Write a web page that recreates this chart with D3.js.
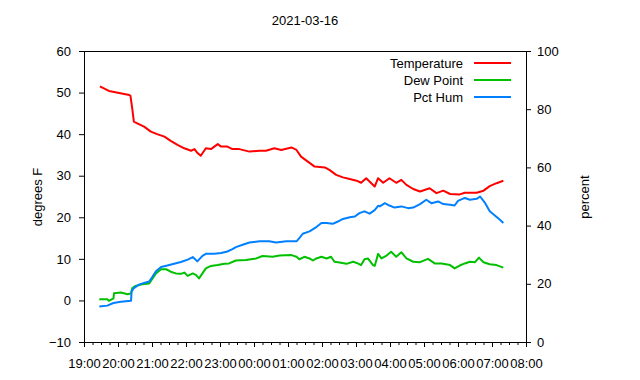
<!DOCTYPE html>
<html><head><meta charset="utf-8">
<script src="https://cdn.jsdelivr.net/npm/d3@7"></script>
<style>body{margin:0;background:#fff}svg{display:block;font-family:"Liberation Sans",Arial,Helvetica,sans-serif}</style>
</head><body><svg id="c" width="640" height="380"></svg>
<script>
const title = "2021-03-16";
const leftLabel = "degrees F";
const rightLabel = "percent";
const seriesNames = ["Temperature", "Dew Point", "Pct Hum"];
const leftTicks = [-10, 0, 10, 20, 30, 40, 50, 60];
const rightTicks = [0, 20, 40, 60, 80, 100];

const tempTimes = ["19:28","19:44","20:02","20:20","20:22","20:25","20:28","20:34","20:46","20:58","21:09","21:22","21:33","21:45","21:57","22:09","22:15","22:20","22:26","22:35","22:44","22:56","23:02","23:13","23:22","23:34","23:52","00:10","00:21","00:36","00:48","01:06","01:15","01:23","01:35","01:47","02:05","02:13","02:25","02:37","02:49","03:01","03:09","03:18","03:27","03:33","03:39","03:48","03:59","04:11","04:20","04:29","04:41","04:53","05:10","05:22","05:34","05:46","06:03","06:12","06:33","06:45","06:56","07:08","07:20"];
const tempValues = [51.5,50.4,49.9,49.4,49.2,46.3,43.0,42.6,41.8,40.6,40.0,39.4,38.4,37.4,36.6,36.0,36.4,35.5,34.8,36.6,36.4,37.6,37.0,37.0,36.4,36.4,35.8,36.0,36.0,36.6,36.2,36.8,36.2,34.6,33.4,32.2,32.0,31.4,30.2,29.6,29.2,28.8,28.3,29.4,28.2,27.4,29.4,28.3,29.4,28.3,29.0,27.8,26.8,26.2,27.0,25.8,26.4,25.6,25.5,25.9,25.9,26.4,27.5,28.2,28.8];

const dewTimes = ["19:27","19:41","19:44","19:52","19:53","20:05","20:17","20:23","20:25","20:31","20:43","20:55","21:01","21:07","21:16","21:25","21:33","21:42","21:51","21:57","22:03","22:12","22:18","22:23","22:29","22:35","22:44","22:56","23:08","23:16","23:28","23:46","00:04","00:15","00:33","00:45","01:06","01:15","01:20","01:29","01:38","01:44","01:50","01:59","02:08","02:16","02:22","02:31","02:43","02:55","03:03","03:09","03:15","03:21","03:30","03:33","03:39","03:45","03:54","04:02","04:11","04:20","04:29","04:41","04:53","05:07","05:19","05:31","05:46","05:54","06:03","06:12","06:21","06:30","06:37","06:45","06:56","07:08","07:20"];
const dewValues = [0.3,0.3,-0.1,0.5,1.7,1.9,1.5,1.7,2.9,3.5,3.9,4.1,5.3,6.5,7.5,7.5,6.9,6.5,6.4,6.7,5.9,6.5,6.1,5.3,6.5,7.7,8.3,8.5,8.8,8.9,9.6,9.7,10.1,10.7,10.5,10.8,10.9,10.5,9.9,10.5,10.1,9.6,10.1,10.5,10.1,10.5,9.3,9.1,8.8,9.3,8.9,8.5,9.9,10.1,8.5,8.3,11.2,10.1,10.8,11.7,10.5,11.6,10.1,9.3,9.2,10.0,8.9,8.9,8.5,7.7,8.4,8.9,9.3,9.2,10.3,9.2,8.7,8.5,7.9];

const humTimes = ["19:27","19:41","19:52","20:05","20:23","20:24","20:28","20:37","20:46","20:55","21:01","21:07","21:16","21:27","21:39","21:51","22:03","22:12","22:20","22:29","22:35","22:50","23:02","23:13","23:22","23:28","23:40","23:52","00:10","00:27","00:39","00:57","01:15","01:20","01:26","01:38","01:50","01:59","02:08","02:19","02:28","02:37","02:49","02:58","03:06","03:15","03:24","03:33","03:39","03:42","03:51","03:59","04:08","04:20","04:32","04:41","04:53","05:04","05:13","05:25","05:34","05:46","05:54","06:00","06:12","06:21","06:33","06:39","06:48","06:56","07:05","07:14","07:20"];
const humValues = [12.2,12.5,13.4,13.8,14.2,17.4,18.5,19.7,20.3,20.8,22.5,24.3,25.8,26.3,26.9,27.5,28.3,29.2,27.7,29.6,30.3,30.3,30.6,31.1,31.9,32.6,33.4,34.2,34.6,34.6,34.2,34.6,34.6,35.7,37.2,38.0,39.5,40.9,40.9,40.6,41.4,42.3,42.9,43.1,44.3,44.9,44.1,45.3,46.8,46.6,47.7,46.9,46.2,46.6,46.0,46.2,47.4,48.9,47.7,48.3,47.4,47.2,46.9,48.5,49.5,48.9,49.2,50.0,47.7,44.9,43.5,42.0,40.9];

const colors = ["#ff0000", "#00c000", "#0080ff"];

function parseT(s) {
  const [h, m] = s.split(":").map(Number);
  return new Date(2021, 2, h >= 12 ? 15 : 16, h, m);
}

const svg = d3.select("#c");
const L = 84, R = 526, T = 51, B = 342;

const x = d3.scaleTime()
  .domain([new Date(2021, 2, 15, 19, 0), new Date(2021, 2, 16, 8, 0)])
  .range([L, R]);
const yL = d3.scaleLinear().domain([-10, 60]).range([B, T]);
const yR = d3.scaleLinear().domain([0, 100]).range([B, T]);

// minor x ticks
const gMinor = svg.append("g").attr("transform", `translate(0,${B})`)
  .call(d3.axisBottom(x).ticks(d3.timeMinute.every(15)).tickSize(3).tickFormat(""));
gMinor.select(".domain").remove();

const gx = svg.append("g").attr("transform", `translate(0,${B})`)
  .call(d3.axisBottom(x).ticks(d3.timeHour.every(1)).tickFormat(d3.timeFormat("%H:%M")).tickSize(5).tickPadding(12));
gx.select(".domain").remove();

const gl = svg.append("g").attr("transform", `translate(${L},0)`)
  .call(d3.axisLeft(yL).tickValues(leftTicks).tickSize(5).tickPadding(8));
gl.select(".domain").remove();

const gr = svg.append("g").attr("transform", `translate(${R},0)`)
  .call(d3.axisRight(yR).tickValues(rightTicks).tickSize(5).tickPadding(6));
gr.select(".domain").remove();

svg.selectAll(".tick text").attr("font-size", 13).attr("font-family", null).attr("fill", "#000");
svg.selectAll(".tick line").attr("stroke", "#000");

svg.append("rect").attr("x", L + 0.5).attr("y", T + 0.5)
  .attr("width", R - L).attr("height", B - T)
  .attr("fill", "none").attr("stroke", "#000").attr("stroke-width", 1);

const series = [
  {name: seriesNames[0], times: tempTimes, values: tempValues, y: yL, color: colors[0]},
  {name: seriesNames[1], times: dewTimes, values: dewValues, y: yL, color: colors[1]},
  {name: seriesNames[2], times: humTimes, values: humValues, y: yR, color: colors[2]}
];

series.forEach(s => {
  const pts = s.times.map((t, i) => [parseT(t), s.values[i]]);
  const line = d3.line().x(d => x(d[0])).y(d => s.y(d[1]));
  svg.append("path").datum(pts).attr("d", line)
    .attr("fill", "none").attr("stroke", s.color).attr("stroke-width", 2)
    .attr("stroke-linejoin", "round");
});

// legend
series.forEach((s, i) => {
  const yy = 63 + i * 17;
  svg.append("text").attr("x", 463).attr("y", yy).attr("dy", "0.35em")
    .attr("text-anchor", "end").attr("font-size", 13).text(s.name);
  svg.append("line").attr("x1", 474).attr("x2", 511).attr("y1", yy).attr("y2", yy)
    .attr("stroke", s.color).attr("stroke-width", 2);
});

svg.append("text").attr("x", 305).attr("y", 25).attr("text-anchor", "middle")
  .attr("font-size", 13).text(title);
svg.append("text").attr("transform", "translate(42,197) rotate(-90)")
  .attr("text-anchor", "middle").attr("font-size", 13).text(leftLabel);
svg.append("text").attr("transform", "translate(589,197) rotate(-90)")
  .attr("text-anchor", "middle").attr("font-size", 13).text(rightLabel);
</script></body></html>
